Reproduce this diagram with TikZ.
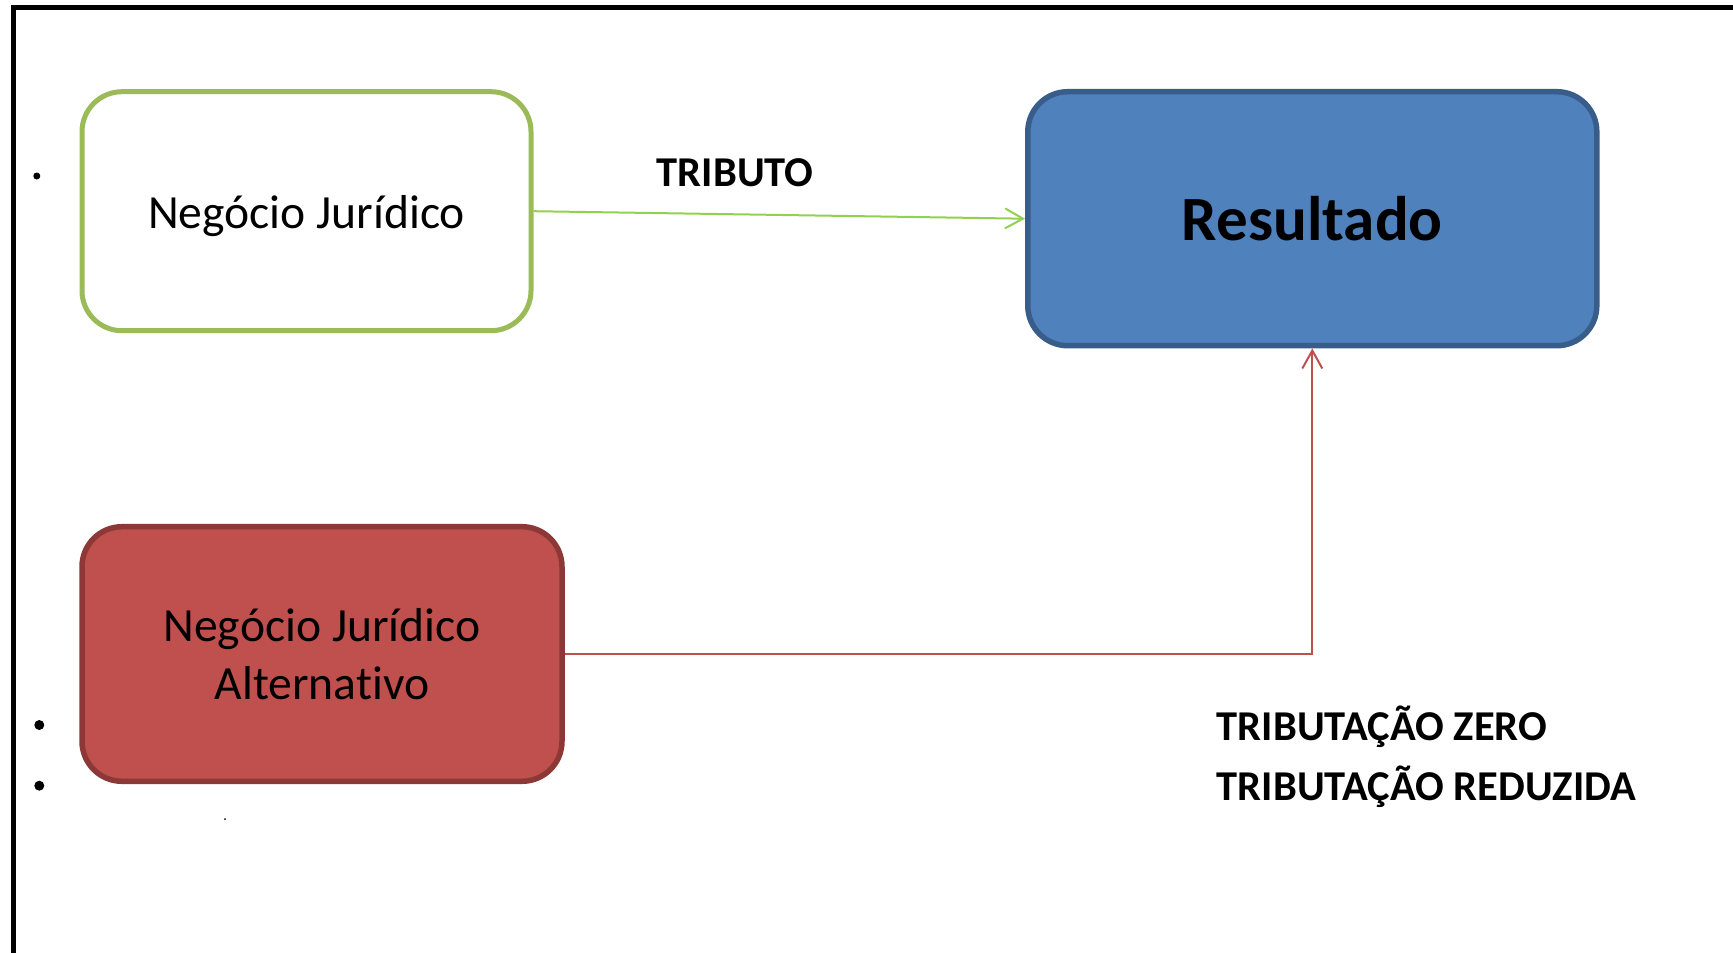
\documentclass[tikz,border=0pt]{standalone}
\usepackage{fontspec}
\setmainfont{Carlito}[Ligatures={NoCommon,NoDiscretionary}]
\usetikzlibrary{arrows.meta}
\definecolor{gborder}{HTML}{9BBB59}
\definecolor{garrow}{HTML}{92D050}
\definecolor{bfill}{HTML}{4F81BD}
\definecolor{bborder}{HTML}{385D8A}
\definecolor{rfill}{HTML}{C0504D}
\definecolor{rborder}{HTML}{8C3836}
\begin{document}
\begin{tikzpicture}[x=1pt,y=-1pt,
  boxstyle/.style={rectangle,rounded corners=40pt,inner sep=0pt,align=center},
  labelstyle/.style={inner sep=0pt,anchor=base west,font=\fontsize{42.5}{50}\selectfont\bfseries},
  bulletstyle/.style={circle,fill=black,inner sep=0pt}]
\useasboundingbox (0,0) rectangle (1733,953);
% frame
\draw[line width=5pt] (1740,7.3) -- (13,7.3) -- (13,960);
% boxes
\node[boxstyle,draw=gborder,fill=white,line width=5pt,minimum width=449pt,minimum height=239pt,
  text height=33.6pt,text depth=0pt,
  font=\fontsize{47.6}{57.3}\selectfont] (gbox) at (306.5,211.2) {Negócio Jurídico};
\node[boxstyle,draw=bborder,fill=bfill,line width=5.5pt,minimum width=569pt,minimum height=254pt,
  text height=44pt,text depth=0pt,
  font=\fontsize{63}{76}\selectfont\bfseries] (bbox) at (1312.3,218.7) {Resultado};
\node[boxstyle,draw=rborder,fill=rfill,line width=5.5pt,minimum width=480pt,minimum height=254.6pt,
  font=\fontsize{47.6}{57.3}\selectfont] (rbox) at (322,654) {Negócio Jurídico\\Alternativo};
% connectors
\draw[garrow,line width=2pt,-{Straight Barb[length=18pt,width=20pt]}] (gbox.east) -- (bbox.west);
\draw[rfill,line width=2pt,-{Straight Barb[length=18pt,width=20pt]}] (rbox.east) -| (bbox.south);
% labels
\node[labelstyle] (trib) at (656.7,186.7) {TRIBUTO};
\node[labelstyle] (tzero) at (1216.7,740) {TRIBUTAÇÃO ZERO};
\node[labelstyle] (tred) at (1216.7,800) {TRIBUTAÇÃO REDUZIDA};
% bullets
\node[bulletstyle,minimum size=7pt] (b1) at (36.8,176) {};
\node[bulletstyle,minimum size=10pt] (b2) at (39.3,725) {};
\node[bulletstyle,minimum size=10pt] (b3) at (39.3,785.7) {};
\node[bulletstyle,minimum size=2pt] (b4) at (225,819) {};
\end{tikzpicture}
\end{document}
